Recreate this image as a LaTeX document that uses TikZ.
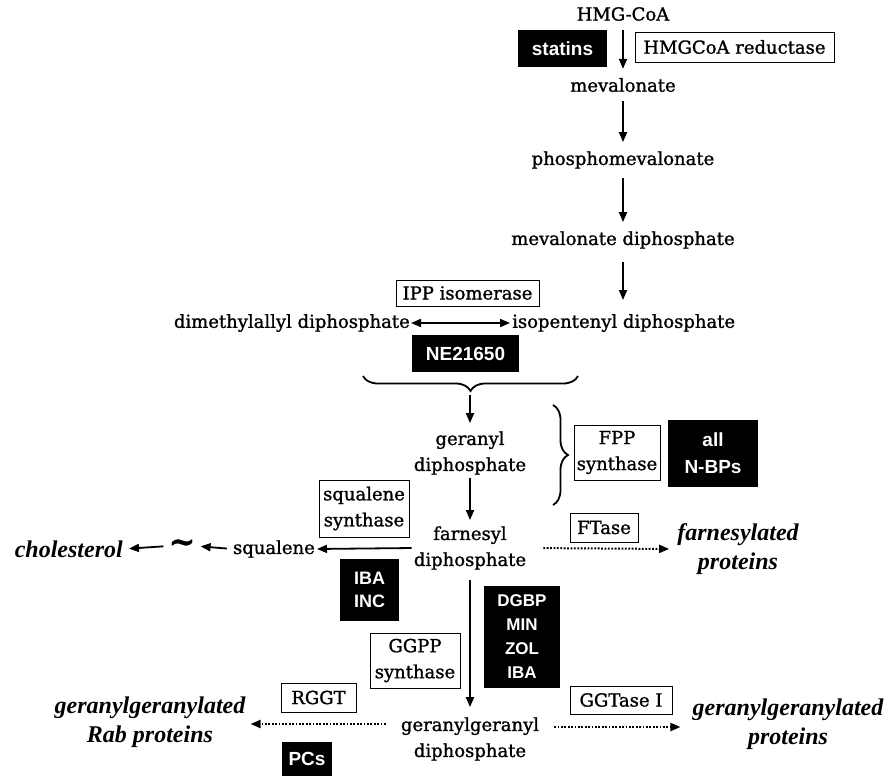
\documentclass[tikz,border=0pt]{standalone}
\usepackage{fontspec}
\setmainfont{DejaVu Serif}[FakeBold=1.2]
\newfontfamily\serfont{DejaVu Serif}[FakeBold=1.2]
\newfontfamily\prodfont{Liberation Serif}
\newfontfamily\inhfont{Liberation Sans}
\usetikzlibrary{arrows.meta,decorations.pathreplacing}
\begin{document}
\begin{tikzpicture}[x=1pt,y=-1pt,
  txt/.style={inner sep=0pt,align=center,font=\serfont\fontsize{18}{26}\selectfont},
  enz/.style={draw,line width=1pt,inner sep=0pt,align=center,font=\serfont\fontsize{18}{26}\selectfont},
  inh/.style={fill=black,text=white,inner sep=0pt,align=center,font=\inhfont\bfseries\fontsize{19}{24}\selectfont},
  prod/.style={inner sep=0pt,align=center,font=\prodfont\bfseries\itshape\fontsize{24}{29}\selectfont},
  arr/.style={line width=1.8pt,-{Triangle[length=10pt,width=8pt]}},
  darr/.style={line width=1.8pt,{Triangle[length=10pt,width=8pt]}-{Triangle[length=10pt,width=8pt]}},
  dotarr/.style={line width=2pt,dash pattern=on 1.8pt off 1.6pt,-{Triangle[length=10pt,width=8pt]}},
  brc/.style={line width=1.8pt,decorate,decoration={brace,amplitude=15pt}}
]
\useasboundingbox (0,0) rectangle (889,782);
% main pathway
\node[txt] (hmg) at (623,14) {HMG-CoA};
\node[txt] (mev) at (623,85) {mevalonate};
\node[txt] (pmev) at (623,160) {phosphomevalonate};
\node[txt] (mevdp) at (623,240) {mevalonate diphosphate};
\node[txt,anchor=west] (ipp) at (512,323) {isopentenyl diphosphate};
\node[txt,anchor=east] (dmapp) at (410,323) {dimethylallyl diphosphate};
\node[txt] (gpp) at (470,453) {geranyl\\diphosphate};
\node[txt] (fpp) at (470,548) {farnesyl\\diphosphate};
\node[txt,anchor=east] (squal) at (315,549) {squalene};
\node[txt,font=\serfont\bfseries\fontsize{32}{32}\selectfont] (tilde) at (182,546) {\textasciitilde};
\node[prod,anchor=east] (chol) at (123,549) {cholesterol};
\node[prod] (farnp) at (738,549) {farnesylated\\proteins};
\node[txt] (ggpp) at (470,739) {geranylgeranyl\\diphosphate};
\node[prod] (ggrab) at (150,722) {geranylgeranylated\\Rab proteins};
\node[prod] (ggp) at (788,724) {geranylgeranylated\\proteins};
% enzymes
\node[enz,minimum width=199pt,minimum height=30pt] (hmgr) at (734.5,47) {HMGCoA reductase};
\node[enz,minimum width=143pt,minimum height=26pt] (ippi) at (467.5,293) {IPP isomerase};
\node[enz,minimum width=86pt,minimum height=55pt] (fpps) at (617,452.5) {FPP\\synthase};
\node[enz,minimum width=68pt,minimum height=29pt] (ftase) at (604,527.5) {FTase};
\node[enz,minimum width=90pt,minimum height=57pt] (sqs) at (364,508.5) {squalene\\synthase};
\node[enz,minimum width=90pt,minimum height=55pt] (ggpps) at (415,660.5) {GGPP\\synthase};
\node[enz,minimum width=75pt,minimum height=29pt] (rggt) at (318.5,697.5) {RGGT};
\node[enz,minimum width=102pt,minimum height=28pt] (ggt) at (621,700) {GGTase I};
% inhibitors
\node[inh,minimum width=89pt,minimum height=37pt] (stat) at (562.5,48.5) {statins};
\node[inh,minimum width=107pt,minimum height=37pt] (ne) at (465.5,353.5) {NE21650};
\node[inh,minimum width=90pt,minimum height=67pt,font=\inhfont\bfseries\fontsize{19}{27}\selectfont] (nbp) at (713,453.5) {all\\N-BPs};
\node[inh,minimum width=59pt,minimum height=62pt,font=\inhfont\bfseries\fontsize{18}{23}\selectfont] (ibainc) at (369.5,590) {IBA\\INC};
\node[inh,minimum width=76pt,minimum height=102pt,font=\inhfont\bfseries\fontsize{17}{24}\selectfont] (dgbp) at (522,637) {DGBP\\MIN\\ZOL\\IBA};
\node[inh,minimum width=50pt,minimum height=34pt] (pcs) at (307,758.5) {PCs};
% braces
\coordinate (b1l) at (363,376);
\coordinate (b1r) at (578,376);
\coordinate (b1t) at (470,392);
\draw[brc] (b1r) -- (b1l);
\coordinate (b2t) at (553,405);
\coordinate (b2b) at (553,505);
\draw[brc] (b2t) -- (b2b);
% arrows
\draw[arr,shorten <=9pt,shorten >=9pt] (hmg) -- (mev);
\draw[arr,shorten <=9pt,shorten >=9pt] (mev) -- (pmev);
\draw[arr,shorten <=9pt,shorten >=9pt] (pmev) -- (mevdp);
\draw[arr] (mevdp) ++(0,22) -- (623,300);
\draw[darr,shorten <=1pt,shorten >=2pt] (dmapp) -- (ipp);
\draw[arr,shorten <=3pt,shorten >=8pt] (b1t) -- (gpp);
\draw[arr,shorten <=3pt,shorten >=6pt] (gpp) -- (fpp);
\draw[arr,shorten <=2pt,shorten >=2pt] (fpp.west) -- (squal.east);
\draw[arr,shorten <=6pt,shorten >=5pt] (squal.west) -- (tilde.east);
\draw[arr,shorten <=5pt,shorten >=6pt] (tilde.west) -- (chol.east);
\draw[dotarr,shorten <=17pt,shorten >=8pt] (fpp.east) -- (farnp.west);
\draw[arr,shorten <=10pt,shorten >=10pt] (fpp) -- (ggpp);
\draw[dotarr,shorten <=15pt,shorten >=5pt] (ggpp.west |- 0,724) -- (ggrab.east |- 0,724);
\draw[dotarr,shorten <=15pt,shorten >=12pt] (ggpp.east |- 0,727) -- (ggp.west |- 0,727);
\end{tikzpicture}
\end{document}
